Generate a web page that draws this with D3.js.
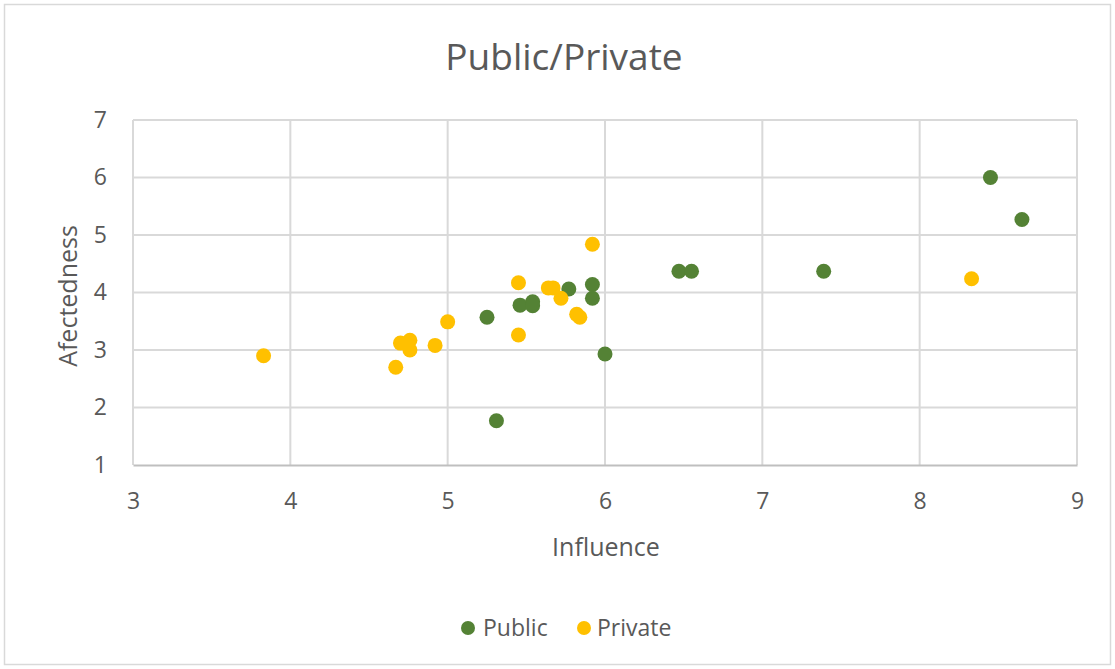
<!DOCTYPE html>
<html><head><meta charset="utf-8">
<script src="https://cdn.jsdelivr.net/npm/d3@7"></script>
<style>body{margin:0;background:#fff;}svg{display:block;font-family:"Open Sans","Segoe UI",sans-serif;}</style>
</head><body>
<svg id="c" width="1115" height="669"></svg>
<script>
const publicX = [8.45, 8.65, 7.39, 6.47, 6.55, 5.77, 5.92, 5.92, 5.46, 5.54, 5.54, 5.25, 6.00, 5.31];
const publicY = [6.00, 5.27, 4.37, 4.37, 4.37, 4.06, 4.14, 3.90, 3.78, 3.84, 3.77, 3.57, 2.93, 1.77];
const privateX = [5.92, 5.45, 5.64, 5.67, 5.72, 5.82, 5.84, 5.45, 5.00, 4.92, 4.70, 4.76, 4.76, 4.67, 3.83, 8.33];
const privateY = [4.84, 4.17, 4.08, 4.08, 3.90, 3.62, 3.57, 3.26, 3.49, 3.08, 3.12, 3.17, 3.00, 2.70, 2.90, 4.24];
const xTicks = [3, 4, 5, 6, 7, 8, 9];
const yTicks = [1, 2, 3, 4, 5, 6, 7];
const seriesNames = ["Public", "Private"];
const seriesColors = ["#548235", "#FFC000"];

const svg = d3.select("#c");
const W = 1115, H = 669;
const m = {left: 133, right: 1077, top: 120, bottom: 465};
svg.append("rect").attr("x", 4.5).attr("y", 4.5).attr("width", W - 9).attr("height", H - 9)
  .attr("fill", "#fff").attr("stroke", "#d9d9d9").attr("stroke-width", 1.5);

const x = d3.scaleLinear().domain([3, 9]).range([m.left, m.right]);
const y = d3.scaleLinear().domain([1, 7]).range([m.bottom, m.top]);

// gridlines
svg.append("g").selectAll("line").data(yTicks.filter(d => d > 1)).join("line")
  .attr("x1", m.left).attr("x2", m.right).attr("y1", d => y(d)).attr("y2", d => y(d))
  .attr("stroke", "#d9d9d9").attr("stroke-width", 2);
svg.append("g").selectAll("line").data(xTicks).join("line")
  .attr("x1", d => x(d)).attr("x2", d => x(d)).attr("y1", m.top).attr("y2", m.bottom)
  .attr("stroke", "#d9d9d9").attr("stroke-width", 2);

// x axis
const xAxis = svg.append("g").attr("transform", `translate(0,${m.bottom})`)
  .call(d3.axisBottom(x).tickValues(xTicks).tickFormat(d3.format("d")).tickSize(0).tickPadding(28));
xAxis.select(".domain").attr("stroke", "#bfbfbf").attr("stroke-width", 2);
xAxis.selectAll("text").attr("fill", "#595959").attr("font-size", 23).attr("font-family", "Open Sans");

const yAxis = svg.append("g").attr("transform", `translate(${m.left},0)`)
  .call(d3.axisLeft(y).tickValues(yTicks).tickFormat(d3.format("d")).tickSize(0).tickPadding(26));
yAxis.select(".domain").remove();
yAxis.selectAll("text").attr("fill", "#595959").attr("font-size", 23).attr("font-family", "Open Sans");

// points
const seriesData = [
  publicX.map((v, i) => [v, publicY[i]]),
  privateX.map((v, i) => [v, privateY[i]])
];
seriesData.forEach((pts, si) => {
  svg.append("g").selectAll("circle").data(pts).join("circle")
    .attr("cx", d => x(d[0])).attr("cy", d => y(d[1])).attr("r", 7.5)
    .attr("fill", seriesColors[si]);
});

// title
svg.append("text").attr("x", 564).attr("y", 70).attr("text-anchor", "middle")
  .attr("fill", "#595959").attr("font-size", 37).text("Public/Private");

svg.append("text").attr("x", 606).attr("y", 556).attr("text-anchor", "middle")
  .attr("fill", "#595959").attr("font-size", 25).text("Influence");

svg.append("text").attr("transform", `translate(77,296) rotate(-90)`)
  .attr("text-anchor", "middle").attr("fill", "#595959").attr("font-size", 25).text("Afectedness");

// legend
const legItems = [{x: 468, tx: 483}, {x: 584, tx: 597}];
seriesNames.forEach((n, i) => {
  svg.append("circle").attr("cx", legItems[i].x).attr("cy", 628).attr("r", 7).attr("fill", seriesColors[i]);
  svg.append("text").attr("x", legItems[i].tx).attr("y", 636).attr("fill", "#595959")
    .attr("font-size", 23).text(n);
});
</script>
</body></html>
